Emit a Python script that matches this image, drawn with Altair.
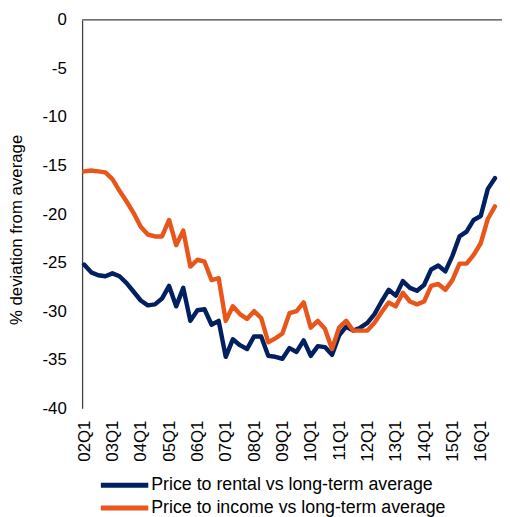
import altair as alt
import pandas as pd

quarters = [f"{y:02d}Q{q}" for y in range(2, 17) for q in range(1, 5)][:59]

rental = [-25.2, -26.0, -26.3, -26.4, -26.1, -26.4, -27.1, -28.0, -28.9, -29.4,
          -29.3, -28.7, -27.4, -29.5, -27.6, -31.0, -29.9, -29.8, -31.4, -31.0,
          -34.7, -32.9, -33.5, -33.9, -32.6, -32.6, -34.6, -34.7, -34.9, -33.8,
          -34.2, -33.0, -34.6, -33.6, -33.7, -34.5, -32.5, -31.6, -32.0, -31.7,
          -31.2, -30.3, -29.0, -27.8, -28.4, -26.9, -27.6, -27.9, -27.3, -25.7,
          -25.3, -25.9, -24.3, -22.3, -21.8, -20.6, -20.2, -17.4, -16.3]

income = [-15.6, -15.5, -15.6, -15.7, -16.4, -17.6, -18.7, -19.9, -21.3, -22.1,
          -22.3, -22.3, -20.6, -23.2, -21.7, -25.4, -24.7, -24.9, -26.8, -26.6,
          -31.0, -29.5, -30.3, -30.8, -30.0, -30.7, -33.2, -32.8, -32.3, -30.2,
          -30.0, -29.1, -31.7, -31.0, -31.8, -33.9, -31.7, -31.0, -32.0, -32.0,
          -32.0, -31.2, -30.1, -29.1, -29.5, -28.1, -29.0, -29.3, -29.0, -27.4,
          -27.2, -27.8, -26.8, -25.1, -25.1, -24.2, -23.0, -20.5, -19.2]

series_names = ["Price to rental vs long-term average",
                "Price to income vs long-term average"]
series_colors = ["#002060", "#E9561B"]
y_ticks = [0, -5, -10, -15, -20, -25, -30, -35, -40]
x_ticks = [i for i, q in enumerate(quarters) if q.endswith("Q1")]

rows = []
for name, vals in zip(series_names, [rental, income]):
    for i, v in enumerate(vals):
        rows.append({"idx": i, "quarter": quarters[i], "series": name, "value": v})
df = pd.DataFrame(rows)

label_array = "[" + ",".join(f"'{q}'" for q in quarters) + "]"
FONT = "Liberation Sans"

x_enc = alt.X("idx:Q",
              scale=alt.Scale(domain=[-0.28, 59.0], nice=False, zero=False),
              axis=alt.Axis(values=x_ticks, labelExpr=f"{label_array}[datum.value]",
                            labelAngle=-90, labelAlign="right", labelBaseline="middle",
                            labelPadding=12, labelFontSize=17, labelFont=FONT,
                            labelColor="#000000", domain=False, ticks=False,
                            grid=False, title=None))
y_enc = alt.Y("value:Q",
              scale=alt.Scale(domain=[-40, 0], nice=False),
              axis=alt.Axis(values=y_ticks, grid=False, ticks=False,
                            labelExpr="toString(datum.value)",
                            domainColor="#404040", domainWidth=1.3,
                            labelFontSize=17, labelFont=FONT, labelColor="#000000",
                            labelPadding=16,
                            title="% deviation from average", titleFontSize=17,
                            titleFont=FONT, titleFontWeight="normal",
                            titleColor="#000000", titleAngle=-90,
                            titleAlign="center", titleBaseline="middle",
                            titleX=-66, titleY=212))

lines = alt.Chart(df).mark_line(strokeWidth=4.5, strokeJoin="round", strokeCap="round").encode(
    x=x_enc,
    y=y_enc,
    color=alt.Color("series:N",
                    scale=alt.Scale(domain=series_names, range=series_colors),
                    sort=series_names,
                    legend=alt.Legend(orient="none", legendX=34, legendY=462,
                                      title=None, direction="vertical",
                                      symbolType="M-4,0H4", symbolSize=144,
                                      symbolStrokeWidth=5, symbolFillColor="transparent",
                                      rowPadding=3,
                                      labelFontSize=18, labelFont=FONT,
                                      labelColor="#000000", labelOffset=18,
                                      labelLimit=500, padding=0)),
    detail="series:N",
)

zero_rule = alt.Chart(pd.DataFrame({"z": [0]})).mark_rule(
    color="#404040", strokeWidth=1.3).encode(y=alt.Y("z:Q"))

chart = alt.layer(lines, zero_rule).properties(
    width=425, height=393,
    autosize=alt.AutoSizeParams(type="none"),
    padding={"left": 75, "top": 9, "right": 0, "bottom": 112},
).configure_view(stroke=None)

chart.save("out.html", embed_options={"renderer": "svg", "actions": False})
